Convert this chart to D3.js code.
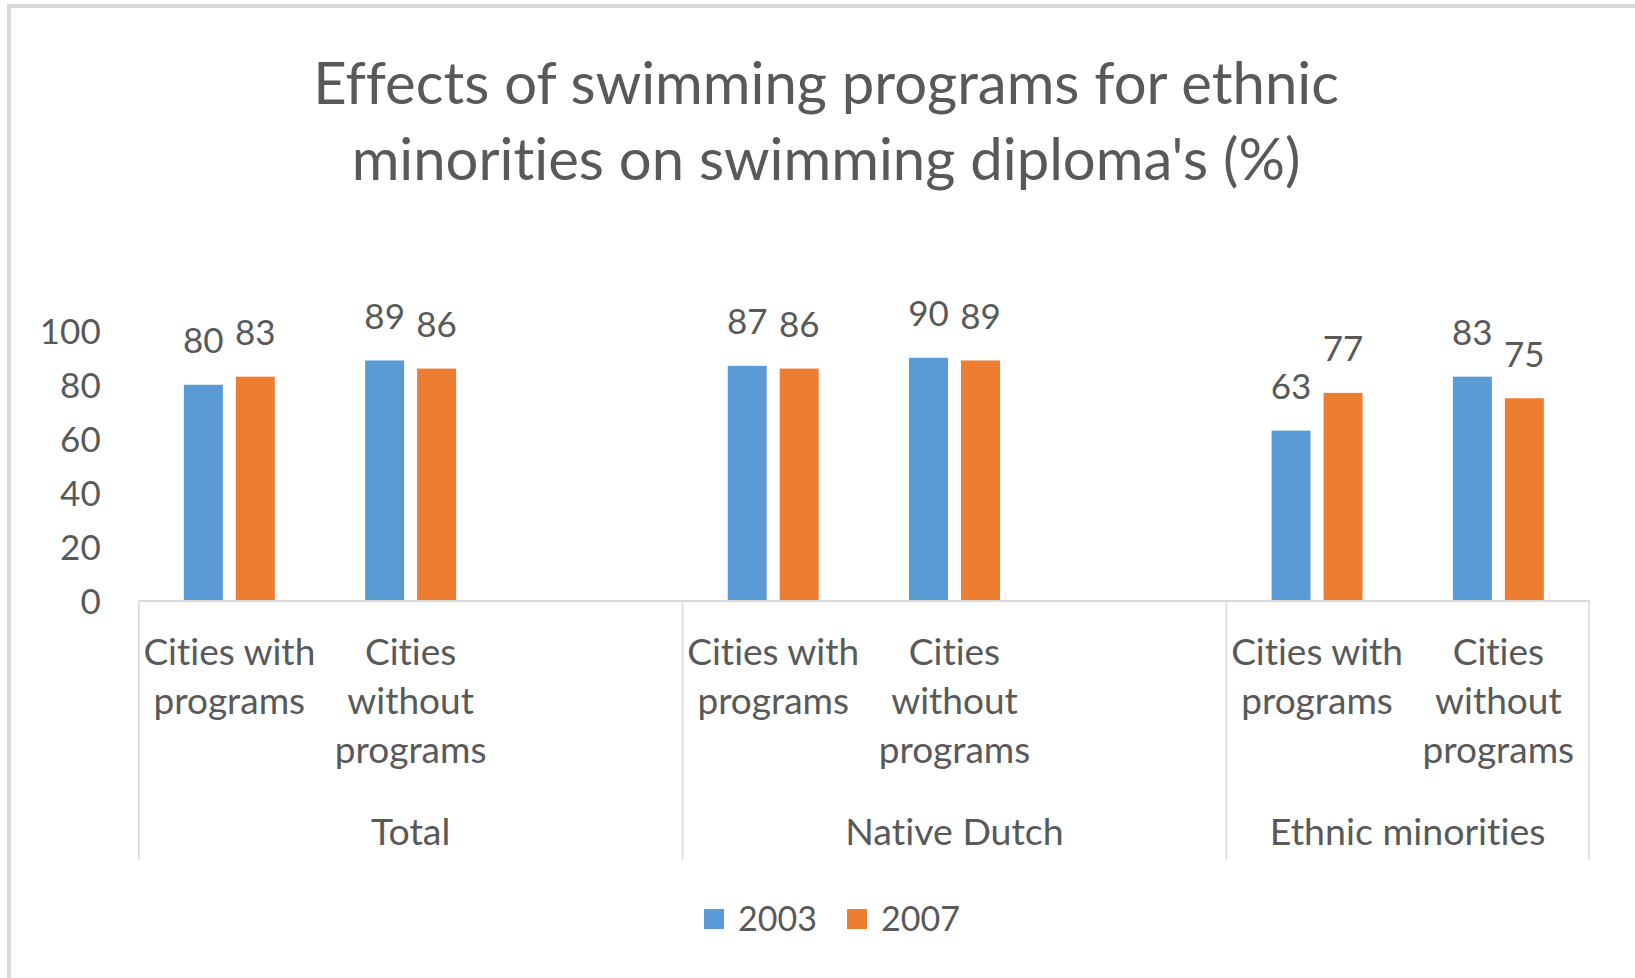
<!DOCTYPE html>
<html>
<head>
<meta charset="utf-8">
<script src="https://cdn.jsdelivr.net/npm/d3@7"></script>
<style>
  html, body { margin: 0; padding: 0; background: #fff; }
  svg { display: block; }
  text { font-family: Lato, "Open Sans", sans-serif; fill: #595959; font-variant-ligatures: none; }
</style>
</head>
<body>
<svg id="chart" width="1635" height="978"></svg>
<script>
// Sheet data: category rows (group, sub-category), blank rows separate groups
const categories = [
  ["Total", "Cities with programs"],
  ["Total", "Cities without programs"],
  ["Total", ""],
  ["Native Dutch", "Cities with programs"],
  ["Native Dutch", "Cities without programs"],
  ["Native Dutch", ""],
  ["Ethnic minorities", "Cities with programs"],
  ["Ethnic minorities", "Cities without programs"]
];
const years = ["2003", "2007"];
const values2003 = [80, 89, null, 87, 90, null, 63, 83];
const values2007 = [83, 86, null, 86, 89, null, 77, 75];
const yTicks = [0, 20, 40, 60, 80, 100];
const titleLines = [
  "Effects of swimming programs for ethnic",
  "minorities on swimming diploma's (%)"
];
const colors = ["#5B9BD5", "#ED7D31"];

const svg = d3.select("#chart");

// chart frame (left and top edges visible)
svg.append("rect")
  .attr("x", 9).attr("y", 6).attr("width", 1700).attr("height", 1100)
  .attr("fill", "#fff").attr("stroke", "#d9d9d9").attr("stroke-width", 4);

const plot = { left: 138.7, right: 1589, top: 330.8, bottom: 600.6 };

const x0 = d3.scaleBand()
  .domain(d3.range(categories.length))
  .range([plot.left, plot.right]);

const x1 = d3.scaleBand()
  .domain(years)
  .range([0, x0.bandwidth()])
  .paddingInner(0.25)
  .paddingOuter(0.869);

const y = d3.scaleLinear().domain([0, 100]).range([plot.bottom, plot.top]);

// title
svg.append("g").selectAll("text")
  .data(titleLines)
  .join("text")
  .attr("x", 826)
  .attr("y", (d, i) => 103.5 + i * 76)
  .attr("text-anchor", "middle")
  .style("font-size", "58px")
  .text(d => d);

// y axis labels
const yAxis = svg.append("g")
  .attr("transform", `translate(${plot.left},0)`)
  .call(d3.axisLeft(y).tickValues(yTicks).tickSize(0).tickPadding(38));
yAxis.select(".domain").remove();
yAxis.selectAll("text")
  .attr("dy", "0.36em")
  .style("font-size", "35px")
  .style("font-family", "Lato, sans-serif")
  .attr("fill", "#595959");

// bars
const series = [values2003, values2007];
const rows = categories.map((c, i) => ({ i, vals: series.map(s => s[i]) }));

const slot = svg.append("g").selectAll("g")
  .data(rows)
  .join("g")
  .attr("transform", d => `translate(${x0(d.i)},0)`);

const barData = d => years.map((yr, k) => ({ yr, k, v: d.vals[k] })).filter(b => b.v != null);

slot.selectAll("rect")
  .data(barData)
  .join("rect")
  .attr("x", b => x1(b.yr))
  .attr("width", x1.bandwidth())
  .attr("y", b => y(b.v))
  .attr("height", b => y(0) - y(b.v))
  .attr("fill", b => colors[b.k]);

// data labels
slot.selectAll("text.value")
  .data(barData)
  .join("text")
  .attr("class", "value")
  .attr("x", b => x1(b.yr) + x1.bandwidth() / 2)
  .attr("y", b => y(b.v) - 31.5)
  .attr("text-anchor", "middle")
  .style("font-size", "35px")
  .text(b => b.v);

// category axis line
const xAxis = svg.append("g")
  .attr("transform", `translate(0,${plot.bottom})`)
  .call(d3.axisBottom(x0).tickSize(0).tickFormat(""));
xAxis.select(".domain").attr("stroke", "#d9d9d9").attr("stroke-width", 2);

// group separators
const groupNames = Array.from(new Set(categories.map(c => c[0])));
const groupSpans = groupNames.map(g => {
  const idx = categories.map((c, i) => c[0] === g ? i : -1).filter(i => i >= 0);
  return { name: g, x0: x0(idx[0]), x1: x0(idx[idx.length - 1]) + x0.bandwidth() };
});
const edges = [groupSpans[0].x0, ...groupSpans.map(s => s.x1)];
svg.append("g").selectAll("line")
  .data(edges)
  .join("line")
  .attr("x1", d => d).attr("x2", d => d)
  .attr("y1", plot.bottom).attr("y2", 860)
  .attr("stroke", "#d9d9d9").attr("stroke-width", 1.5);

// sub-category labels, word-wrapped to the slot width
const subLabels = svg.append("g");
categories.forEach((c, i) => {
  if (!c[1]) return;
  const t = subLabels.append("text")
    .attr("text-anchor", "middle")
    .style("font-size", "37px");
  const cx = x0(i) + x0.bandwidth() / 2;
  const words = c[1].split(" ");
  const lines = [];
  let line = [];
  const probe = t.append("tspan");
  words.forEach(w => {
    const trial = line.concat(w).join(" ");
    probe.text(trial);
    if (probe.node().getComputedTextLength() > x0.bandwidth() - 4 && line.length) {
      lines.push(line.join(" "));
      line = [w];
    } else {
      line.push(w);
    }
  });
  lines.push(line.join(" "));
  probe.remove();
  lines.forEach((l, k) => {
    t.append("tspan").attr("x", cx).attr("y", 665 + k * 49).text(l);
  });
});

// group labels
svg.append("g").selectAll("text")
  .data(groupSpans)
  .join("text")
  .attr("x", d => (d.x0 + d.x1) / 2)
  .attr("y", 845)
  .attr("text-anchor", "middle")
  .style("font-size", "37.5px")
  .text(d => d.name);

// legend
const legend = svg.append("g").attr("transform", "translate(704,909)");
const li = legend.selectAll("g")
  .data(years)
  .join("g")
  .attr("transform", (d, i) => `translate(${i * 143},0)`);
li.append("rect").attr("width", 20).attr("height", 20).attr("fill", (d, i) => colors[i]);
li.append("text").attr("x", 34).attr("y", 10).attr("dy", "0.36em")
  .style("font-size", "34px").text(d => d);
</script>
</body>
</html>
